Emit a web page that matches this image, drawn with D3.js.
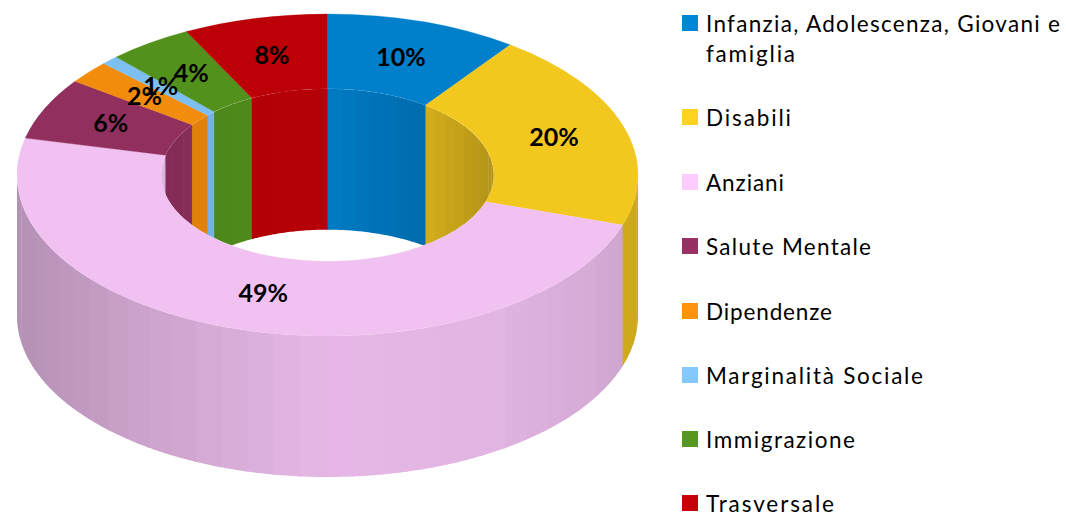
<!DOCTYPE html>
<html>
<head>
<meta charset="utf-8">
<script src="https://cdn.jsdelivr.net/npm/d3@7"></script>
<style>
html,body{margin:0;padding:0;background:#fff;overflow:hidden}
svg{display:block}
text{font-family:Lato,"Noto Sans",sans-serif}
</style>
</head>
<body>
<svg id="chart" width="1066" height="516"></svg>
<script>
const categories = ["Infanzia, Adolescenza, Giovani e famiglia","Disabili","Anziani","Salute Mentale","Dipendenze","Marginalità Sociale","Immigrazione","Trasversale"];
const values = [10.0,20.0,48.6,6.2,2.3,0.9,4.4,7.5];
const colors = ["#0086d6","#ffd221","#fecbfe","#993264","#ff930d","#83c9fd","#57991e","#c50008"];
const legendLines = [["Infanzia, Adolescenza, Giovani e","famiglia"],["Disabili"],["Anziani"],["Salute Mentale"],["Dipendenze"],["Marginalità Sociale"],["Immigrazione"],["Trasversale"]];
const legendRows = [15,109,174,238,303,367,431,495];
const legendWidths = [[354,89],[85],[78],[165],[126],[217],[149],[128]];

const cx=327.5,cy=175,R=310.5,r=166.5,K=0.5185,DEPTH=141;
const svg=d3.select("#chart");
const pie=d3.pie().sort(null).value(d=>d)(values);
const arc=d3.arc().innerRadius(r).outerRadius(R);
const labelArc=d3.arc().innerRadius(165.5).outerRadius(R);
const px=d3.scaleLinear().domain([-1,1]).range([cx-1,cx+1]);
const py=d3.scaleLinear().domain([-1,1]).range([cy-K,cy+K]);
const line=d3.line();
const shadeOuter=d3.scaleLinear().domain([-1,-.6,0,.5,.85,1]).range([.71,.80,.905,.89,.84,.80]).clamp(true);
const shadeInner=d3.scaleLinear().domain([-1,-.2,0,.55,.62,1]).range([.86,.92,.92,.81,.82,.70]).clamp(true);
function shade(c,f){const q=d3.rgb(c);return d3.rgb(q.r*f,q.g*f,q.b*f)+""}
const faceColor=c=>shade(c,.95);
function ePoint(rad,t,dy){return [px(rad*Math.sin(t)),py(-rad*Math.cos(t))+dy]}
const STEP=5*Math.PI/180, OVER=0.4*Math.PI/180;

function wall(g,rad,lo,hi,shadeFn){
  pie.forEach((p,i)=>{
    const a0=Math.max(p.startAngle,lo),a1=Math.min(p.endAngle,hi);
    if(a1<=a0)return;
    const s0=Math.floor(a0/STEP),s1=Math.ceil(a1/STEP);
    for(let s=s0;s<s1;s++){
      const t0=Math.max(a0,s*STEP),t1=Math.min(a1,(s+1)*STEP)+OVER;
      if(t1<=t0+OVER)continue;
      const n=8,ts=d3.range(n+1).map(j=>t0+(t1-t0)*j/n);
      const pts=ts.map(t=>ePoint(rad,t,0)).concat(ts.slice().reverse().map(t=>ePoint(rad,t,DEPTH)));
      g.append("path").attr("d",line(pts)+"Z").attr("fill",shade(colors[i],shadeFn(Math.sin((t0+t1)/2))));
    }
  });
}

svg.append("defs").append("clipPath").attr("id","hole").append("ellipse")
  .attr("cx",cx).attr("cy",cy).attr("rx",r).attr("ry",r*K);
const innerG=svg.append("g").attr("clip-path","url(#hole)");
wall(innerG,r,3*Math.PI/2,2*Math.PI,shadeInner);
wall(innerG,r,0,Math.PI/2,shadeInner);
wall(svg.append("g"),R,Math.PI/2,3*Math.PI/2,shadeOuter);

svg.append("g").attr("transform",`translate(${cx},${cy}) scale(1,${K})`)
  .selectAll("path").data(pie).join("path")
  .attr("d",arc).attr("fill",(d,i)=>faceColor(colors[i]))
  .attr("stroke",(d,i)=>faceColor(colors[i])).attr("stroke-width",.4);

svg.append("g").selectAll("text").data(d3.range(values.length)).join("text")
  .attr("x",i=>cx+labelArc.centroid(pie[i])[0])
  .attr("y",i=>cy+K*labelArc.centroid(pie[i])[1]+8.5)
  .attr("text-anchor","middle")
  .attr("font-size",25).attr("font-weight",700).attr("fill","#000")
  .text(i=>d3.format(".0f")(values[i])+"%");

const leg=svg.append("g");
categories.forEach((c,i)=>{
  const y=legendRows[i];
  leg.append("rect").attr("x",682).attr("y",y).attr("width",16).attr("height",16).attr("fill",colors[i]);
  legendLines[i].forEach((t,j)=>{
    leg.append("text").attr("x",706).attr("y",y+17+j*29.5)
      .attr("font-size",22.5).attr("textLength",legendWidths[i][j]).attr("lengthAdjust","spacing")
      .attr("fill","#000").text(t);
  });
});
</script>
</body>
</html>
